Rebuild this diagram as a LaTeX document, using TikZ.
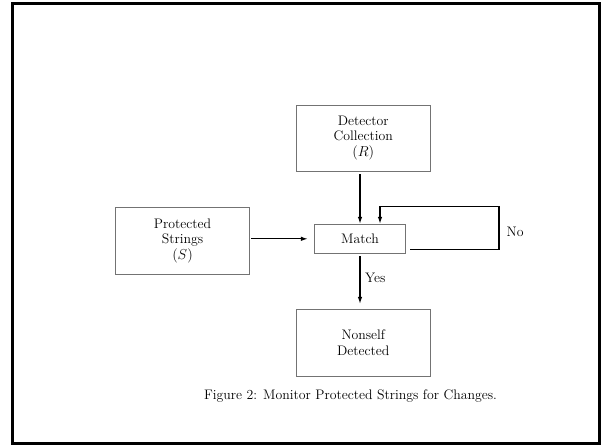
\documentclass[tikz,border=0pt]{standalone}
\usetikzlibrary{arrows.meta,calc}
\begin{document}
\begin{tikzpicture}[x=1pt,y=-1pt,
  box/.style={draw=black!55,line width=0.9pt,align=center,inner sep=0pt,
    font=\fontsize{13.8}{15.5}\selectfont},
  conn/.style={line width=1.2pt,-{Latex[length=7pt,width=4.5pt]}},
  lbl/.style={font=\fontsize{13.8}{15.5}\selectfont,inner sep=0pt}]
\useasboundingbox (0,0) rectangle (602,445);
\draw[line width=3pt] (12.5,3.5) rectangle (599.5,443.5);
\node[box,minimum width=133.3pt,minimum height=66pt] (det) at (363.3,138) {Detector\\Collection\\$(R)$};
\node[box,minimum width=133.6pt,minimum height=67pt] (prot) at (182.5,240.8) {Protected\\Strings\\$(S)$};
\node[box,minimum width=91.4pt,minimum height=29pt] (match) at (360,238.8) {Match};
\node[box,minimum width=133.3pt,minimum height=66.7pt] (non) at (363.3,342.7) {Nonself\\Detected};
\node[lbl] (cap) at (350.5,396) {Figure 2: Monitor Protected Strings for Changes.};
\coordinate (l0) at ($(match.east)+(4.3,10.5)$);
\coordinate (l1) at (499,249.3);
\coordinate (l2) at (499,206.7);
\coordinate (l3) at (380,206.7);
\draw[conn,shorten <=3pt] (det.south -| match.north) -- (match.north);
\draw[conn,shorten <=1.7pt,shorten >=6pt] (prot.east |- match.west) -- (match.west);
\draw[conn] (l0) -- (l1) -- (l2) -- (l3) -- (l3 |- match.north);
\draw[conn,shorten <=2.7pt,shorten >=5pt] (match.south) -- (match.south |- non.north);
\node[lbl,anchor=west] (no) at (506.5,231.5) {No};
\node[lbl,anchor=west] (yes) at (365,278) {Yes};
\end{tikzpicture}
\end{document}
